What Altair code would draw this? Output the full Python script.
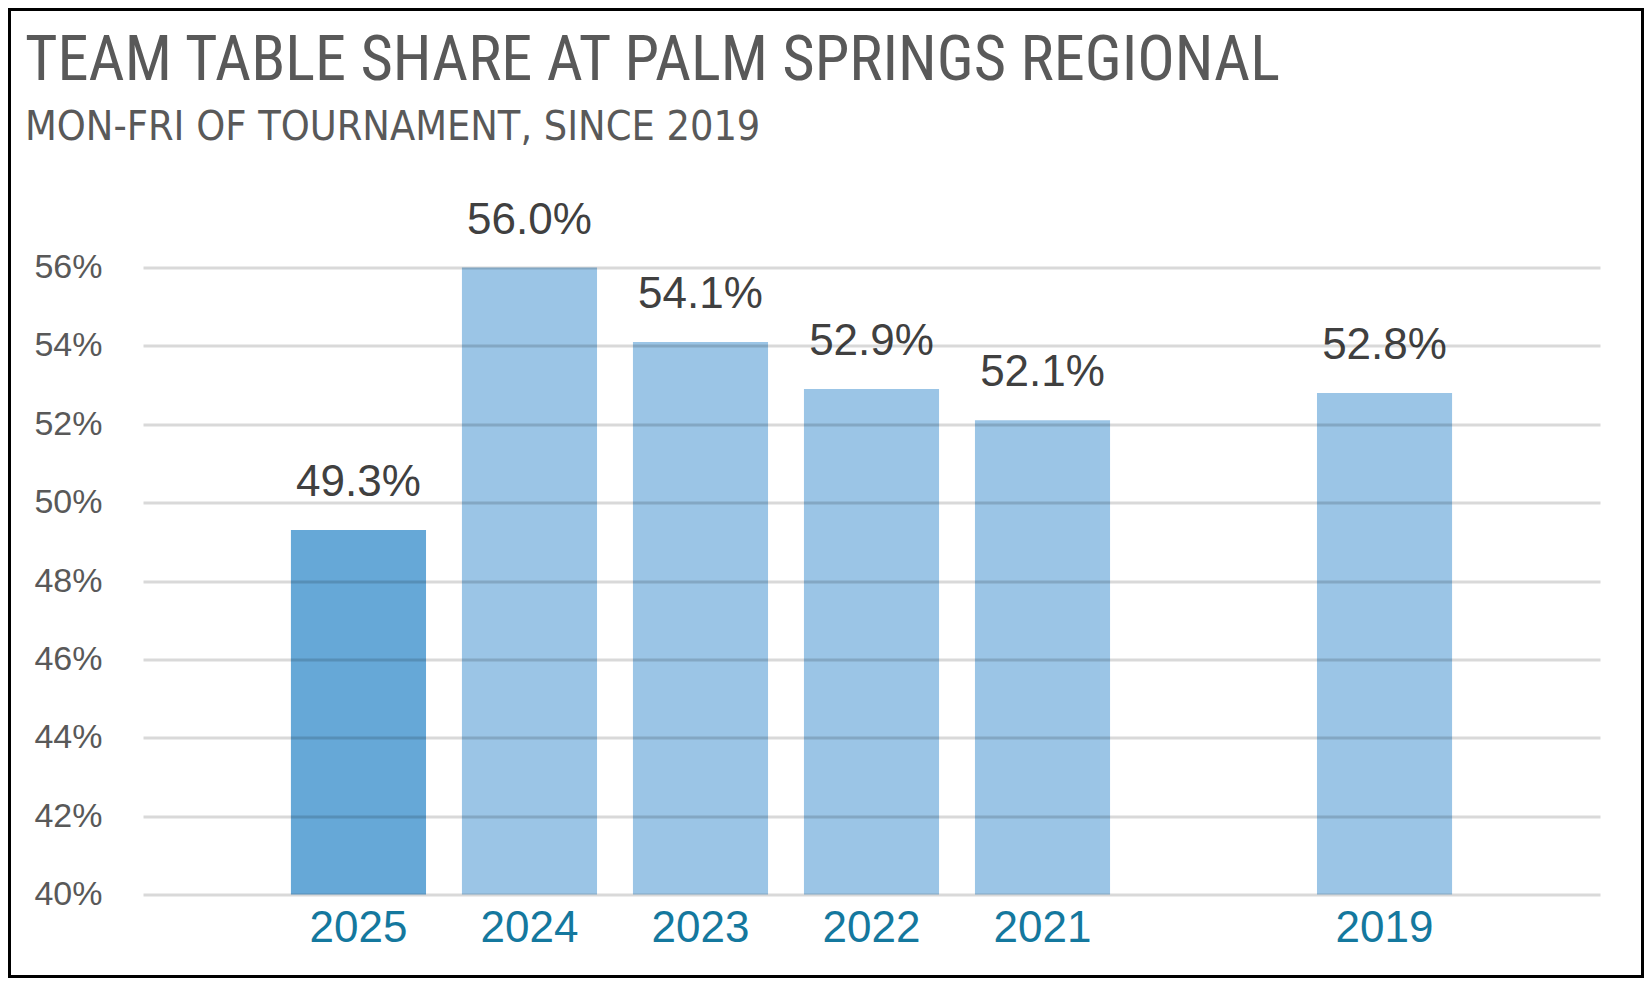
import altair as alt
import pandas as pd

# ---- data ----
years = ["2025", "2024", "2023", "2022", "2021", "", "2019"]
shares = [49.3, 56.0, 54.1, 52.9, 52.1, None, 52.8]
groups = ["current", "prior", "prior", "prior", "prior", "prior", "prior"]
y_ticks = [40, 42, 44, 46, 48, 50, 52, 54, 56]
y_domain = [40, 56]
title_text = "TEAM TABLE SHARE AT PALM SPRINGS REGIONAL"
subtitle_text = "MON-FRI OF TOURNAMENT, SINCE 2019"

df = pd.DataFrame({"year": years, "share": shares, "group": groups})

TITLE_FONT = "Roboto Condensed, Liberation Sans Narrow, sans-serif"
SUB_FONT = "DejaVu Sans Condensed, Roboto Condensed, sans-serif"
SANS = "Liberation Sans, Arial, sans-serif"

x_enc = alt.X(
    "year:N",
    sort=None,
    scale=alt.Scale(domain=years, paddingInner=0.21, paddingOuter=0.865),
    axis=alt.Axis(
        title=None, labelAngle=0, labelFont=SANS, labelFontSize=44,
        labelColor="#14789E", labelPadding=12, domain=False, ticks=False,
        tickSize=0, grid=False,
    ),
)
y_enc = alt.Y(
    "share:Q",
    scale=alt.Scale(domain=y_domain, zero=False, nice=False, clamp=True),
    axis=alt.Axis(
        title=None, values=y_ticks, labelExpr="datum.value + '%'",
        labelFont=SANS, labelFontSize=34, labelColor="#595959",
        labelPadding=41, domain=False, ticks=False, tickSize=0,
        grid=True, gridColor="#000000", gridOpacity=0.15, gridWidth=3,
        zindex=1,
    ),
)

base = alt.Chart(df).transform_filter("isValid(datum.share)")

bars = base.mark_bar().encode(
    x=x_enc,
    y=y_enc,
    color=alt.Color(
        "group:N",
        scale=alt.Scale(domain=["current", "prior"], range=["#66A8D7", "#9BC5E6"]),
        legend=None,
    ),
)

labels = base.transform_calculate(
    label="format(datum.share, '.1f') + '%'"
).mark_text(
    font=SANS, fontSize=44, color="#404040", baseline="alphabetic", dy=-34
).encode(x=x_enc, y=y_enc, text="label:N")

border = alt.Chart(alt.Data(values=[{}])).mark_rect(
    filled=False, stroke="#000000", strokeWidth=3
).encode(
    x=alt.value(-133.5), x2=alt.value(1499.5),
    y=alt.value(-258), y2=alt.value(709),
)

chart = alt.layer(bars, labels, border).properties(
    width=1457,
    height=627,
    padding={"left": 135, "top": 259.5, "right": 44, "bottom": 83.5},
    autosize=alt.AutoSizeParams(type="none"),
    background="#ffffff",
    title=alt.Title(
        text=title_text,
        subtitle=subtitle_text,
        anchor="start",
        frame="group",
        font=TITLE_FONT,
        fontSize=62.5,
        fontWeight="normal",
        color="#595959",
        subtitleFont=SUB_FONT,
        subtitleFontSize=41,
        subtitleColor="#595959",
        subtitlePadding=14.5,
        offset=-140.8,
        dx=-118,
    ),
).configure_view(strokeWidth=0)

chart.save("out.html", embed_options={"renderer": "svg", "actions": False})
